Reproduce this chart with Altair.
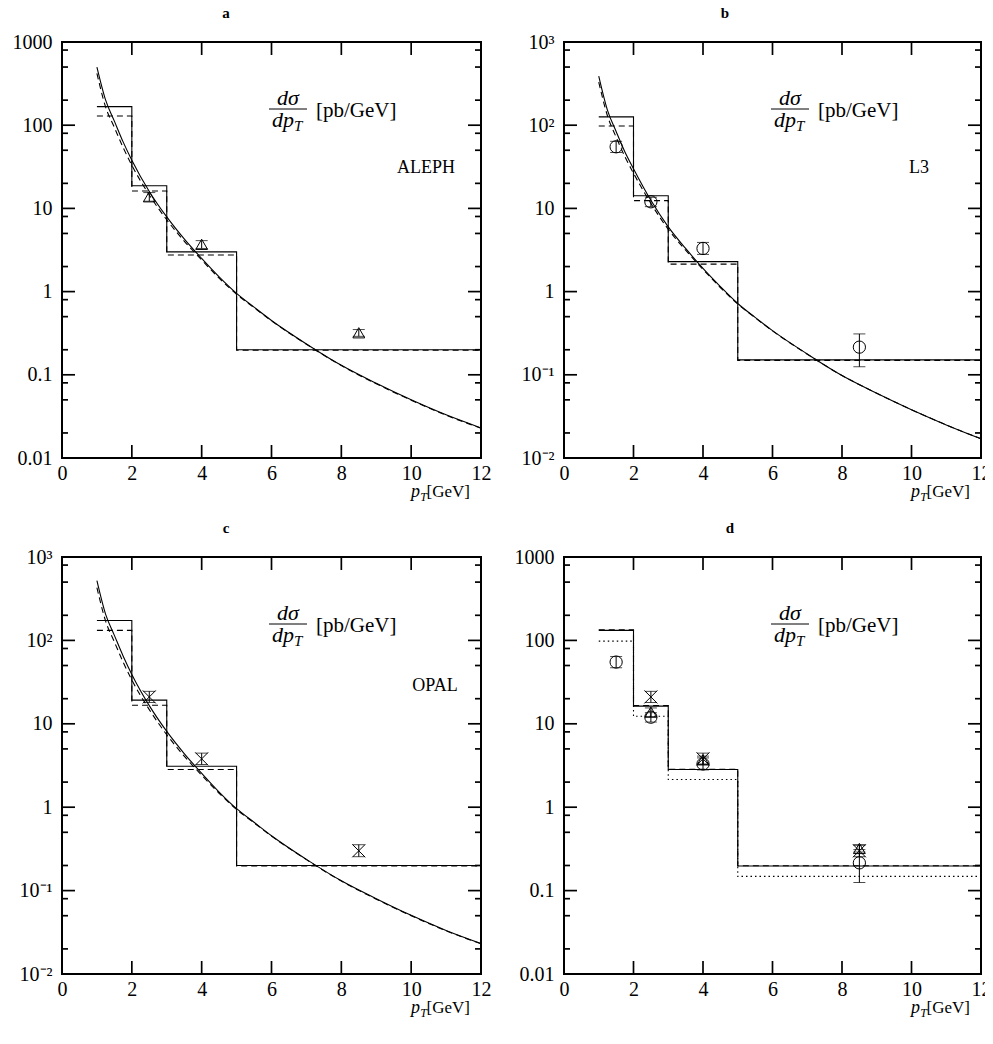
import altair as alt
import pandas as pd

FONT = "Liberation Serif"
FS = 20

# ---------------- data ----------------
pt_grid = [1.0, 1.25, 1.5, 1.75, 2.0, 2.5, 3.0, 3.5, 4.0, 4.5, 5.0, 5.5, 6.0, 7.0, 8.0, 9.0, 10.0, 11.0, 12.0]

aleph_curve_solid = [500, 200, 112, 63, 38, 16, 7.9, 4.3, 2.5, 1.5, 0.95, 0.65, 0.45, 0.235, 0.13, 0.079, 0.050, 0.033, 0.023]
aleph_curve_dashed = [420, 165, 94, 54, 33, 14.5, 7.3, 4.05, 2.4, 1.45, 0.93, 0.64, 0.445, 0.233, 0.129, 0.078, 0.0495, 0.0327, 0.0228]
l3_curve_solid = [390, 152, 84, 48, 30, 12.5, 6.0, 3.3, 1.9, 1.15, 0.72, 0.49, 0.34, 0.178, 0.098, 0.06, 0.038, 0.025, 0.017]
l3_curve_dashed = [330, 130, 72, 42, 26.5, 11.5, 5.6, 3.15, 1.85, 1.12, 0.71, 0.485, 0.337, 0.177, 0.098, 0.06, 0.038, 0.025, 0.017]
opal_curve_solid = [520, 205, 115, 65, 39, 16.5, 8.1, 4.4, 2.55, 1.52, 0.96, 0.66, 0.455, 0.237, 0.131, 0.08, 0.0505, 0.0333, 0.0232]
opal_curve_dashed = [430, 170, 96, 55, 33.5, 14.8, 7.4, 4.1, 2.42, 1.47, 0.94, 0.65, 0.45, 0.235, 0.13, 0.079, 0.05, 0.033, 0.023]

bin_edges = [1, 2, 3, 5, 12]
aleph_hist_solid = [167, 18.7, 3.0, 0.20]
aleph_hist_dashed = [129, 16.2, 2.75, 0.197]
l3_hist_solid = [126, 14.2, 2.29, 0.151]
l3_hist_dashed = [98, 12.4, 2.14, 0.149]
opal_hist_solid = [173, 19.2, 3.1, 0.20]
opal_hist_dashed = [132, 16.7, 2.83, 0.197]
comb_hist_solid = [132, 16.3, 2.83, 0.197]
comb_hist_dashed = [134, 16.6, 2.85, 0.199]
comb_hist_dotted = [98, 12.3, 2.15, 0.148]

aleph_x = [2.5, 4, 8.5]
aleph_y = [13.8, 3.7, 0.32]
aleph_lo = [12.2, 3.3, 0.29]
aleph_hi = [15.5, 4.1, 0.35]

l3_x = [1.5, 2.5, 4, 8.5]
l3_y = [55, 12, 3.3, 0.215]
l3_lo = [47, 10.5, 2.8, 0.125]
l3_hi = [64, 13.6, 3.9, 0.31]

opal_x = [2.5, 4, 8.5]
opal_y = [21, 3.8, 0.30]
opal_lo = [18, 3.25, 0.255]
opal_hi = [24.5, 4.45, 0.355]

x_major = [0, 2, 4, 6, 8, 10, 12]
y_major = [0.01, 0.1, 1, 10, 100, 1000]
y_minor = [0.02, 0.05, 0.08, 0.2, 0.5, 0.8, 2, 5, 8, 20, 50, 80, 200, 500, 800]

X_SHAPE = "M-1,-1L1,1M-1,1L1,-1"
SOLID = None
DASHED = [6, 4]
DOTTED = [1.5, 3]


def blank():
    return alt.Chart(pd.DataFrame({"k": [0]}))


def txt(s, x, y, size=FS, style="normal", weight="normal", align="center", baseline="middle"):
    return blank().mark_text(
        text=s, font=FONT, fontSize=size, fontStyle=style, fontWeight=weight,
        align=align, baseline=baseline, color="black"
    ).encode(x=alt.value(x), y=alt.value(y))


def line_props(dash):
    p = dict(color="black", strokeWidth=1.1)
    if dash is not None:
        p["strokeDash"] = dash
    return p


def panel(W, H, sup, title, title_x, exp_label, exp_pos, curves, hists, points):
    xs = alt.Scale(domain=[0, 12], nice=False, zero=False)
    ys = alt.Scale(type="log", domain=[0.01, 1000], nice=False)
    common = dict(ticks=False, domain=False, grid=False, title=None, labelFont=FONT,
                  labelFontSize=FS, labelColor="black", labelFlush=False,
                  labelOverlap=False, labelBound=False)
    xaxis = alt.Axis(values=x_major, labelPadding=5, format="d", **common)
    if sup:
        yaxis = alt.Axis(values=y_major, labelPadding=10, labelExpr=(
            "datum.value < 0.05 ? '10⁻²' : datum.value < 0.5 ? '10⁻¹' : "
            "datum.value < 5 ? '1' : datum.value < 50 ? '10' : "
            "datum.value < 500 ? '10²' : '10³'"), **common)
    else:
        yaxis = alt.Axis(values=y_major, labelPadding=10, format="~g", **common)

    def ex(f):
        return alt.X(f + ":Q", scale=xs, axis=xaxis)

    def ey(f):
        return alt.Y(f + ":Q", scale=ys, axis=yaxis)

    layers = []
    for vals, dash in curves:
        df = pd.DataFrame({"x": pt_grid, "y": vals})
        layers.append(alt.Chart(df).mark_line(interpolate="monotone", **line_props(dash))
                      .encode(x=ex("x"), y=ey("y")))
    for vals, dash in hists:
        df = pd.DataFrame({"x": bin_edges, "y": list(vals) + [vals[-1]]})
        layers.append(alt.Chart(df).mark_line(interpolate="step-after", **line_props(dash))
                      .encode(x=ex("x"), y=ey("y")))
    for kind, px, py, plo, phi in points:
        df = pd.DataFrame({"x": px, "y": py, "lo": plo, "hi": phi})
        base = alt.Chart(df)
        layers.append(base.mark_rule(color="black", strokeWidth=1)
                      .encode(x=ex("x"), y=ey("lo"), y2=alt.Y2("hi:Q")))
        for f in ("lo", "hi"):
            layers.append(base.mark_tick(orient="horizontal", size=12, thickness=1, color="black")
                          .encode(x=ex("x"), y=ey(f)))
        if kind == "circle":
            mk = base.mark_point(shape="circle", size=150, filled=False, color="black",
                                 strokeWidth=1, opacity=1)
        elif kind == "triangle":
            mk = base.mark_point(shape="triangle-up", size=140, filled=False, color="black",
                                 strokeWidth=1, opacity=1)
        else:
            mk = base.mark_point(shape=X_SHAPE, size=169, filled=False, color="black",
                                 strokeWidth=1, opacity=1)
        layers.append(mk.encode(x=ex("x"), y=ey("y")))

    # inward ticks on all four sides
    ymaj = pd.DataFrame({"v": y_major})
    ymin = pd.DataFrame({"v": y_minor})
    xmaj = pd.DataFrame({"v": x_major})
    tk = dict(color="black", strokeWidth=1.7)
    layers.append(alt.Chart(ymaj).mark_rule(**tk).encode(y=ey("v"), x=alt.value(0), x2=alt.value(13)))
    layers.append(alt.Chart(ymaj).mark_rule(**tk).encode(y=ey("v"), x=alt.value(W), x2=alt.value(W - 13)))
    layers.append(alt.Chart(ymin).mark_rule(**tk).encode(y=ey("v"), x=alt.value(0), x2=alt.value(6)))
    layers.append(alt.Chart(ymin).mark_rule(**tk).encode(y=ey("v"), x=alt.value(W), x2=alt.value(W - 6)))
    layers.append(alt.Chart(xmaj).mark_rule(**tk).encode(x=ex("v"), y=alt.value(H), y2=alt.value(H - 13)))
    layers.append(alt.Chart(xmaj).mark_rule(**tk).encode(x=ex("v"), y=alt.value(0), y2=alt.value(13)))

    # annotations
    layers.append(txt("dσ", 226, 63, size=22, style="italic", baseline="alphabetic"))
    layers.append(blank().mark_rule(color="black", strokeWidth=1).encode(
        x=alt.value(207), x2=alt.value(245), y=alt.value(67)))
    layers.append(txt("dp", 221, 85, size=22, style="italic", baseline="alphabetic"))
    layers.append(txt("T", 232, 89, size=15, style="italic", align="left", baseline="alphabetic"))
    layers.append(txt("[pb/GeV]", 254, 69, size=21, align="left"))
    if exp_label:
        layers.append(txt(exp_label, exp_pos[0], exp_pos[1], size=18))
    layers.append(txt(title, title_x, -24, size=15, weight="bold", baseline="alphabetic"))
    layers.append(txt("[GeV]", W - 11, H + 34, size=17, align="right"))
    layers.append(txt("T", W - 54, H + 39, size=12, style="italic", align="right"))
    layers.append(txt("p", W - 61, H + 34, size=18, style="italic", align="right"))

    return alt.layer(*layers).properties(width=W, height=H)


pa = panel(419, 416, False, "a", 164, "ALEPH", (364, 126),
           [(aleph_curve_solid, SOLID), (aleph_curve_dashed, DASHED)],
           [(aleph_hist_solid, SOLID), (aleph_hist_dashed, DASHED)],
           [("triangle", aleph_x, aleph_y, aleph_lo, aleph_hi)])
pb = panel(417, 416, True, "b", 161, "L3", (355, 126),
           [(l3_curve_solid, SOLID), (l3_curve_dashed, DASHED)],
           [(l3_hist_solid, SOLID), (l3_hist_dashed, DASHED)],
           [("circle", l3_x, l3_y, l3_lo, l3_hi)])
pc = panel(419, 417, True, "c", 164, "OPAL", (373, 129),
           [(opal_curve_solid, SOLID), (opal_curve_dashed, DASHED)],
           [(opal_hist_solid, SOLID), (opal_hist_dashed, DASHED)],
           [("x", opal_x, opal_y, opal_lo, opal_hi)])
pd_ = panel(417, 417, False, "d", 166, None, None,
            [],
            [(comb_hist_solid, SOLID), (comb_hist_dashed, DASHED), (comb_hist_dotted, DOTTED)],
            [("circle", l3_x, l3_y, l3_lo, l3_hi),
             ("triangle", aleph_x, aleph_y, aleph_lo, aleph_hi),
             ("x", opal_x, opal_y, opal_lo, opal_hi)])

chart = (alt.concat(pa, pb, pc, pd_, columns=2, spacing={"row": 99, "column": 83}, bounds="flush")
         .properties(autosize=alt.AutoSizeParams(type="none"),
                     padding={"left": 54, "top": 34, "right": 923, "bottom": 990})
         .configure_view(stroke="black", strokeWidth=2))

chart.save("out.html", embed_options={"renderer": "svg", "actions": False})
